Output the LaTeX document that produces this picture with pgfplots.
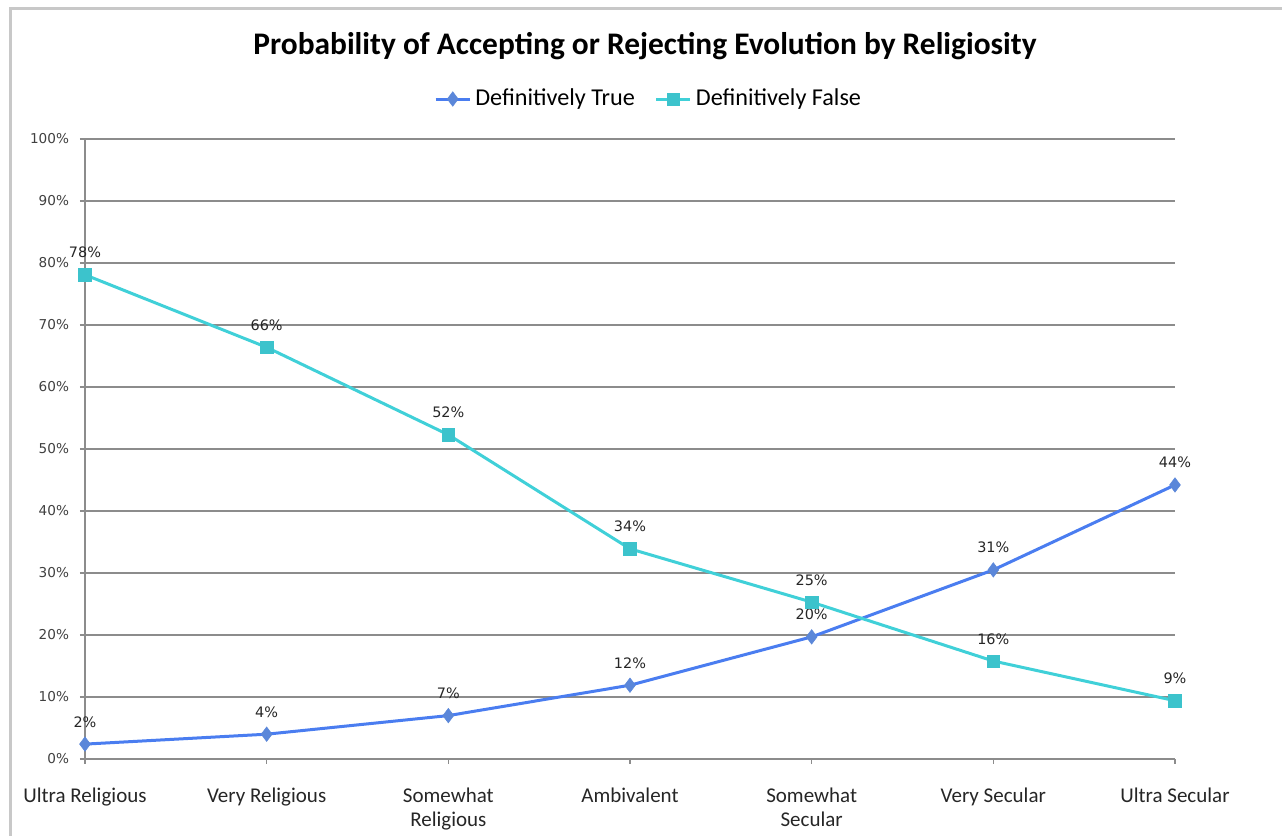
\documentclass[border=0pt]{standalone}
\usepackage{pgfplots}
\pgfplotsset{compat=1.18}
\usepackage{fontspec}
\setmainfont{Carlito}
\newfontfamily\dv{DejaVu Sans}
\definecolor{tline}{HTML}{4A7DF0}
\definecolor{tmark}{HTML}{5B87D9}
\definecolor{fline}{HTML}{40D0D8}
\definecolor{fmark}{HTML}{3CC3CC}
\definecolor{gridc}{HTML}{8C8C8C}
\definecolor{framec}{HTML}{C8C8C8}
\begin{document}
\begin{tikzpicture}
\path[use as bounding box] (0,0) rectangle (641pt,418pt);
\draw[framec, line width=1.5pt] (5pt,0pt) -- (5pt,413.75pt) -- (641pt,413.75pt);
\node[font=\bfseries\fontsize{15.7}{18}\selectfont] at (322.5pt,395pt) {Probability of Accepting or Rejecting Evolution by Religiosity};
\begin{axis}[
  at={(42.5pt,38.5pt)}, anchor=south west,
  scale only axis, width=545pt, height=310pt,
  xmin=0, xmax=6, ymin=0, ymax=100,
  axis lines*=left,
  axis line style={gridc, line width=0.6pt},
  tick align=outside, major tick length=2.5pt,
  tick style={gridc, line width=0.6pt},
  ymajorgrids, major grid style={gridc, line width=0.6pt},
  ytick={0,10,...,100},
  yticklabels={0\%,10\%,20\%,30\%,40\%,50\%,60\%,70\%,80\%,90\%,100\%},
  yticklabel style={font=\dv\fontsize{6.8}{8}\selectfont, text=black!75, xshift=-2pt},
  xtick={0,...,6},
  xticklabels={Ultra Religious,Very Religious,Somewhat\\Religious,Ambivalent,Somewhat\\Secular,Very Secular,Ultra Secular},
  xticklabel style={font=\fontsize{10.5}{12}\selectfont, align=center, anchor=north, yshift=-8.5pt, text=black!85},
  legend columns=2,
  legend style={at={(0.518,1.0645)}, anchor=center, draw=none, fill=none,
    font=\fontsize{12.1}{14}\selectfont, /tikz/every even column/.append style={column sep=8pt}},
  point meta=explicit,
  nodes near coords={\pgfmathprintnumber[fixed,precision=0,assume math mode=true]{\pgfplotspointmeta}\%},
  nodes near coords style={font=\dv\fontsize{7.2}{8}\selectfont, text=black!85, anchor=base, yshift=8.5pt},
  clip=false,
]
\addplot[tline, line width=1.5pt, mark=diamond*, mark size=3.6pt, mark options={fill=tmark, draw=tmark, line width=0.3pt}]
  coordinates {(0,2.4)[2] (1,4.0)[4] (2,7.0)[7] (3,11.9)[12] (4,19.7)[20] (5,30.5)[31] (6,44.2)[44]};
\addlegendentry{Definitively True}
\addplot[fline, line width=1.5pt, mark=square*, mark size=3.1pt, mark options={fill=fmark, draw=fmark, line width=0.3pt}]
  coordinates {(0,78.1)[78] (1,66.4)[66] (2,52.3)[52] (3,33.9)[34] (4,25.3)[25] (5,15.8)[16] (6,9.4)[9]};
\addlegendentry{Definitively False}
\end{axis}
\end{tikzpicture}
\end{document}
